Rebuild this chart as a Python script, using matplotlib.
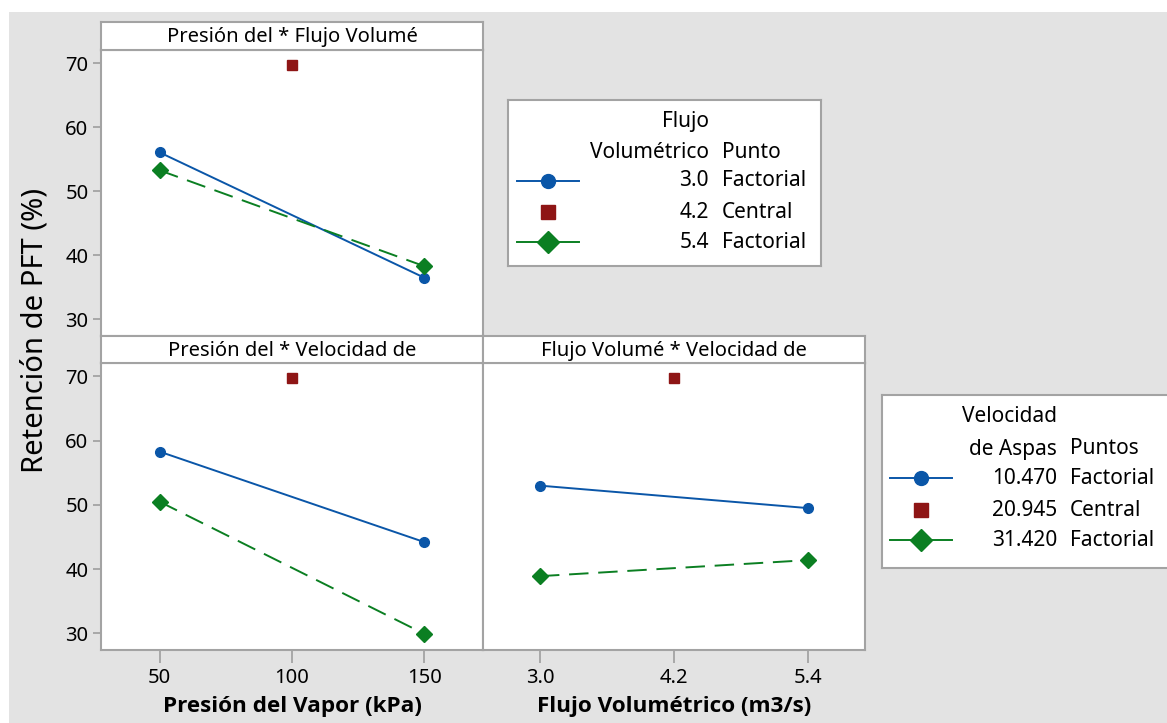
import matplotlib
matplotlib.use("Agg")
import matplotlib.pyplot as plt
from matplotlib.patches import Rectangle

plt.rcParams['font.family'] = ['Noto Sans', 'DejaVu Sans']

# data
pres_levels = [50, 150]
flujo_levels = [3.0, 5.4]
pres_center = 100
flujo_center = 4.2
center_value = 69.7

pf_flujo_low = [56.1, 36.5]   # Presión x Flujo, flujo 3.0
pf_flujo_high = [53.3, 38.3]  # flujo 5.4
pv_vel_low = [58.3, 44.2]     # Presión x Velocidad, vel 10.470
pv_vel_high = [50.5, 29.9]    # vel 31.420
fv_vel_low = [53.0, 49.5]     # Flujo x Velocidad
fv_vel_high = [38.9, 41.4]

yticks = [30, 40, 50, 60, 70]
pres_ticks = [50, 100, 150]
flujo_ticks = [3.0, 4.2, 5.4]
flujo_ticklabels = ["3.0", "4.2", "5.4"]

titles = ["Presión del * Flujo Volumé", "Presión del * Velocidad de", "Flujo Volumé * Velocidad de"]

BLUE = "#0a56a8"
RED = "#8e1515"
GREEN = "#0b7f22"
FRAME = "#a3a3a3"
BG = "#e3e3e3"
FS = 14.5
BOLD_FAMILY = ['Open Sans', 'Lato', 'DejaVu Sans']

W, H = 1167, 723
fig = plt.figure(figsize=(W / 100, H / 100), dpi=100, facecolor="white")
fig.patches.append(Rectangle((9 / W, 0), 1, 1 - 12 / H, transform=fig.transFigure,
                             facecolor=BG, edgecolor="none", zorder=-10))


def px(x0, y0, x1, y1):
    return [x0 / W, 1 - y1 / H, (x1 - x0) / W, (y1 - y0) / H]


def panel(rect, strip, title, xlim):
    ax = fig.add_axes(px(*rect))
    ax.set_xlim(*xlim)
    ax.set_ylim(27.4, 72.1)
    for s in ax.spines.values():
        s.set_color(FRAME)
        s.set_linewidth(1.5)
    ax.tick_params(color=FRAME, width=1.3, labelsize=FS, length=6, pad=3)
    st = fig.add_axes(px(*strip))
    st.set_xticks([])
    st.set_yticks([])
    for s in st.spines.values():
        s.set_color(FRAME)
        s.set_linewidth(1.5)
    st.text(0.5, 0.45, title, ha="center", va="center", fontsize=FS, transform=st.transAxes)
    return ax


def draw(ax, levels, center, low, high):
    ax.plot(levels, low, color=BLUE, lw=1.4, marker="o", ms=7, zorder=3)
    ax.plot(levels, high, color=GREEN, lw=1.4, ls=(0, (10, 5)), marker="D", ms=8.5, zorder=3)
    ax.plot([center], [center_value], ls="none", marker="s", ms=7.5, color=RED, zorder=3)


pres_lim = (27.9, 172.1)
flujo_lim = (2.49, 5.91)

ax1 = panel((101, 50, 483, 336), (101, 22, 483, 50), titles[0], pres_lim)
draw(ax1, pres_levels, pres_center, pf_flujo_low, pf_flujo_high)
ax1.set_xticks([])
ax1.set_yticks(yticks)

ax2 = panel((101, 363, 483, 650), (101, 336, 483, 363), titles[1], pres_lim)
draw(ax2, pres_levels, pres_center, pv_vel_low, pv_vel_high)
ax2.set_yticks(yticks)
ax2.set_xticks(pres_ticks)
ax2.tick_params(axis="x", length=9, pad=4)
ax2.set_xlabel("Presión del Vapor (kPa)", fontsize=16.2, fontweight="bold",
               family=BOLD_FAMILY, labelpad=6)

ax3 = panel((483, 363, 865, 650), (483, 336, 865, 363), titles[2], flujo_lim)
draw(ax3, flujo_levels, flujo_center, fv_vel_low, fv_vel_high)
ax3.set_yticks([])
ax3.set_xticks(flujo_ticks)
ax3.set_xticklabels(flujo_ticklabels)
ax3.tick_params(axis="x", length=9, pad=4)
ax3.set_xlabel("Flujo Volumétrico (m3/s)", fontsize=16.2, fontweight="bold",
               family=BOLD_FAMILY, labelpad=6)

fig.text(35 / W, 1 - 330 / H, "Retención de PFT (%)", rotation=90, ha="center", va="center",
         fontsize=21)


def legend_box(rect, header1, header2, col2, values, kinds, hx, hwidth, tx, px_right, rows_y, head_y):
    x0, y0, x1, y1 = rect
    lg = fig.add_axes(px(*rect))
    lg.set_xlim(x0, x1)
    lg.set_ylim(y1, y0)
    lg.set_xticks([])
    lg.set_yticks([])
    lg.set_facecolor("white")
    for s in lg.spines.values():
        s.set_color(FRAME)
        s.set_linewidth(1.5)
    lg.text(px_right, head_y[0], header1, ha="right", va="center", fontsize=15)
    lg.text(px_right, head_y[1], header2, ha="right", va="center", fontsize=15)
    lg.text(tx, head_y[1], col2, ha="left", va="center", fontsize=15)
    styles = [dict(color=BLUE, marker="o", ms=10, ls="-", lw=1.4),
              dict(color=RED, marker="s", ms=10, ls="none"),
              dict(color=GREEN, marker="D", ms=11, ls="-", lw=1.4)]
    for y, v, k, sty in zip(rows_y, values, kinds, styles):
        half = hwidth if sty["ls"] != "none" else 0
        lg.plot([hx - half, hx, hx + half], [y, y, y], markevery=[1], **sty)
        lg.text(px_right, y, v, ha="right", va="center", fontsize=15)
        lg.text(tx, y, k, ha="left", va="center", fontsize=15)
    return lg


legend_box((508, 100, 821, 266), "Flujo", "Volumétrico", "Punto",
           ["3.0", "4.2", "5.4"], ["Factorial", "Central", "Factorial"],
           548, 31, 722, 709, [181, 212, 242], [121, 152])
legend_box((882, 395, 1180, 568), "Velocidad", "de Aspas", "Puntos",
           ["10.470", "20.945", "31.420"], ["Factorial", "Central", "Factorial"],
           921, 31, 1070, 1057, [478, 510, 540], [417, 449])

fig.savefig("out.png", dpi=100)
